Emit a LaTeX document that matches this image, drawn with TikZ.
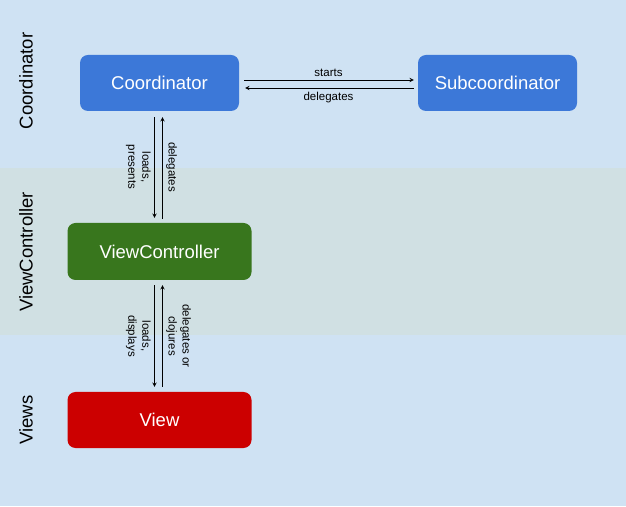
\documentclass[tikz,border=0pt]{standalone}
\usepackage{fontspec}
\setmainfont{Liberation Sans}
\usepackage{xcolor}
\usepackage{tikz}
\usetikzlibrary{shapes.geometric, arrows}

\definecolor{lanebg}{HTML}{CFE2F3}
\definecolor{midbg}{HTML}{D0E0E3}
\definecolor{coordblue}{HTML}{3C78D8}
\definecolor{vcgreen}{HTML}{38761D}
\definecolor{viewred}{HTML}{CC0000}

\begin{document}
\begin{tikzpicture}[x=1pt, y=1pt, node distance=338pt]

% Defined styles
\tikzstyle{box} = [rectangle, rounded corners=8pt, minimum height=56pt, inner sep=0pt, text centered, text=white, font=\fontsize{18.5}{22}\selectfont]
\tikzstyle{coordbox} = [box, minimum width=159pt, fill=coordblue]
\tikzstyle{vcbox} = [box, minimum width=184pt, minimum height=57pt, fill=vcgreen]
\tikzstyle{viewbox} = [box, minimum width=184pt, fill=viewred]
\tikzstyle{lane} = [rotate=90, font=\fontsize{18.5}{22}\selectfont]
\tikzstyle{arrow} = [line width=0.9pt, ->, >=stealth]
\tikzstyle{lbl} = [font=\fontsize{11.5}{14}\selectfont, align=center]

% --- Lanes ---
\useasboundingbox (0,0) rectangle (626,506);
\fill[lanebg] (0,0) rectangle (626,506);
\fill[midbg] (0,171) rectangle (626,338);

\node (lane1) [lane] at (26,425) {Coordinator};
\node (lane2) [lane] at (26,254) {ViewController};
\node (lane3) [lane] at (26,86) {Views};

% --- Boxes ---
\node (coord) [coordbox] at (159.5,423) {Coordinator};
\node (sub) [coordbox, right of=coord] {Subcoordinator};
\node (vc) [vcbox, below of=coord, node distance=168.5pt] {ViewController};
\node (view) [viewbox, below of=vc, node distance=168.5pt] {View};

% --- Arrows ---
\draw [arrow, shorten <=5pt, shorten >=4pt] ([yshift=3pt]coord.east) -- node[lbl, above] {starts} ([yshift=3pt]sub.west);
\draw [arrow, shorten <=4pt, shorten >=6pt] ([yshift=-5pt]sub.west) -- node[lbl, below] {delegates} ([yshift=-5pt]coord.east);

\draw [arrow, shorten <=6pt, shorten >=5pt] ([xshift=-5pt]coord.south) -- node[lbl, rotate=-90, anchor=north] {loads,\\presents} ([xshift=-5pt]vc.north);
\draw [arrow, shorten <=4pt, shorten >=6pt] ([xshift=3pt]vc.north) -- node[lbl, rotate=-90, anchor=south] {delegates} ([xshift=3pt]coord.south);

\draw [arrow, shorten <=5pt, shorten >=5pt] ([xshift=-5pt]vc.south) -- node[lbl, rotate=-90, anchor=north] {loads,\\displays} ([xshift=-5pt]view.north);
\draw [arrow, shorten <=5pt, shorten >=5pt] ([xshift=3pt]view.north) -- node[lbl, rotate=-90, anchor=south] {delegates or\\clojures} ([xshift=3pt]vc.south);

\end{tikzpicture}
\end{document}
